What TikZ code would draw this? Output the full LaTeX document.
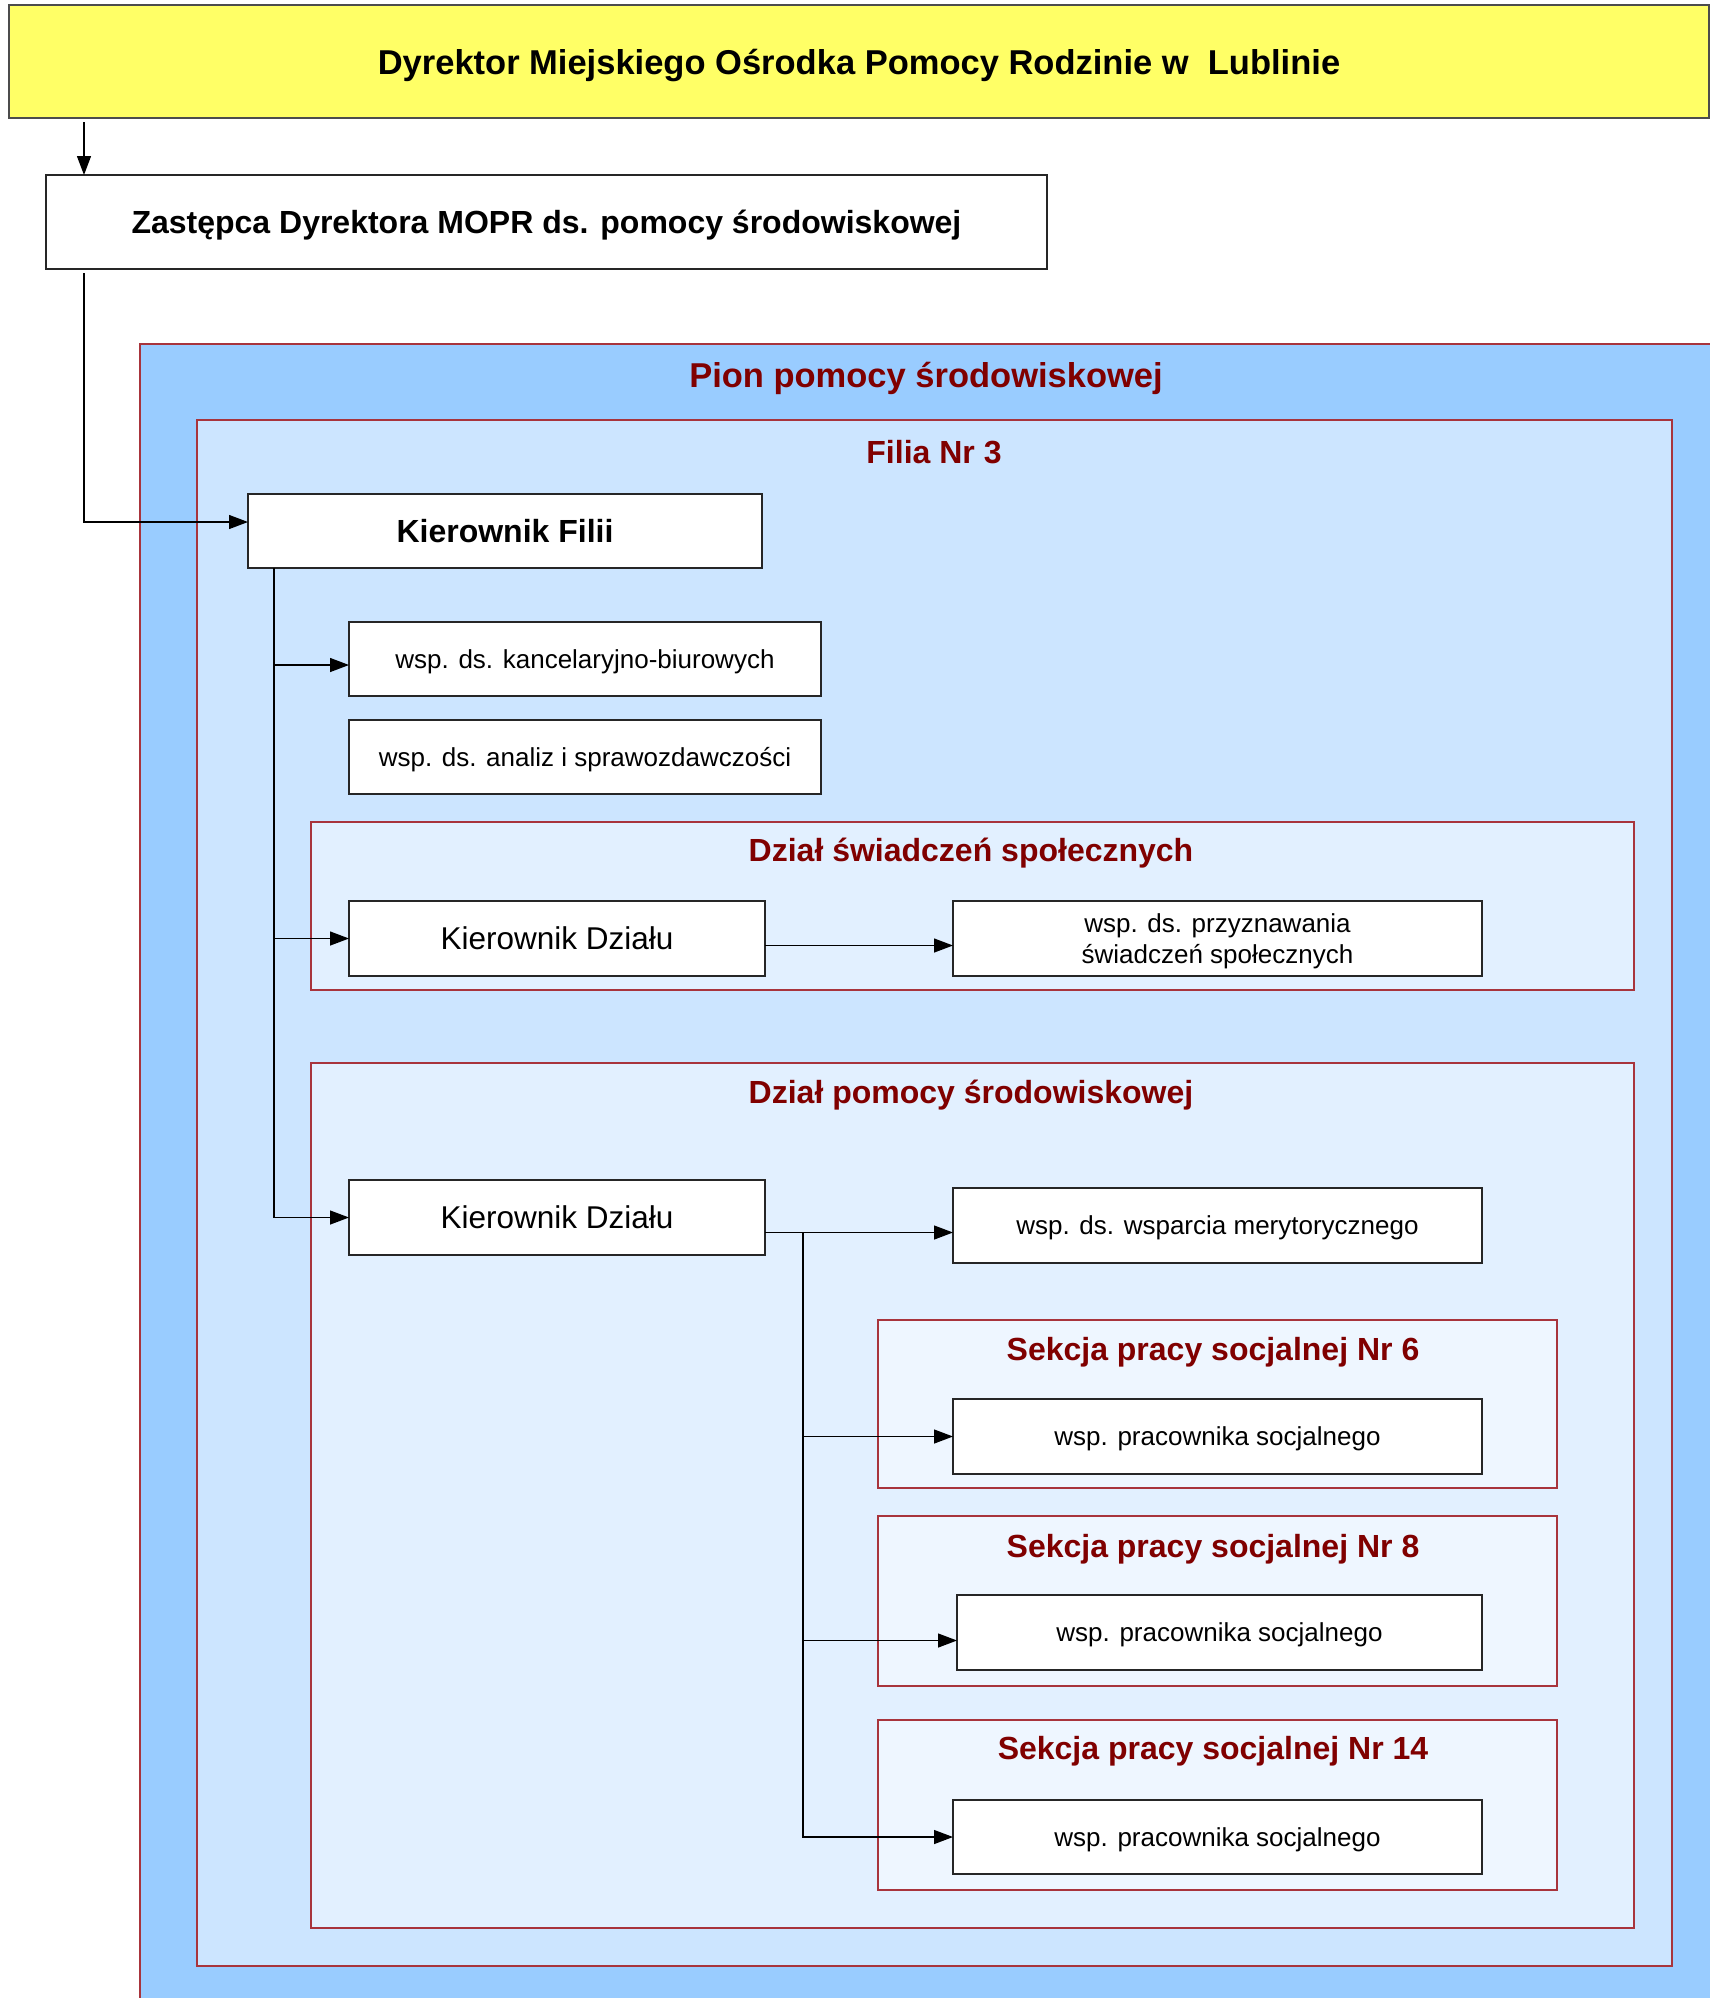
\documentclass[tikz,border=0pt]{standalone}
\usepackage{fontspec}
\setmainfont{Liberation Sans}
\usetikzlibrary{arrows.meta,calc}
\definecolor{dyryellow}{HTML}{FFFF66}
\definecolor{pionblue}{HTML}{99CCFF}
\definecolor{filiablue}{HTML}{CCE5FF}
\definecolor{dzialblue}{HTML}{E2F0FF}
\definecolor{sekblue}{HTML}{EEF6FF}
\definecolor{titlered}{HTML}{800000}
\definecolor{contred}{HTML}{A8343C}
\tikzset{
  wbox/.style={draw=black!85, fill=white, line width=1.3pt, inner sep=0pt, outer sep=0pt, align=center, text depth=0pt, font=\fontsize{26}{31}\selectfont},
  bbox/.style={wbox, font=\bfseries\fontsize{32}{37}\selectfont},
  kbox/.style={wbox, font=\fontsize{31.5}{36}\selectfont},
  cont/.style={draw=contred, line width=1.2pt, inner sep=0pt, outer sep=0pt, anchor=north west},
  ctitle/.style={text=titlered, font=\bfseries\fontsize{32}{37}\selectfont},
  arr/.style={line width=1.3pt, draw=black, -{Triangle[length=19pt,width=14pt]}},
}
\begin{document}
\begin{tikzpicture}[x=1pt,y=-1pt]
\useasboundingbox (0,0) rectangle (1710,1998);
\fill[white] (0,0) rectangle (1710,1998);
% top boxes
\node[bbox, fill=dyryellow, draw=black!70, minimum width=1700pt, minimum height=113pt, font=\bfseries\fontsize{34.5}{40}\selectfont] (dyr) at (859,61.5) {Dyrektor Miejskiego Ośrodka Pomocy Rodzinie w\ \ Lublinie};
\node[bbox, minimum width=1001pt, minimum height=94pt] (zast) at (546.5,222) {Zastępca Dyrektora MOPR ds. pomocy środowiskowej};
% containers
\node[cont, fill=pionblue, minimum width=1580pt, minimum height=1670pt] (pion) at (140,344) {};
\node[ctitle, font=\bfseries\fontsize{34.5}{40}\selectfont] (piont) at (926,378) {Pion pomocy środowiskowej};
\node[cont, fill=filiablue, minimum width=1475pt, minimum height=1546pt] (filia) at (197,420) {};
\node[ctitle] (filiat) at (934,452) {Filia Nr 3};
\node[cont, fill=dzialblue, minimum width=1323pt, minimum height=168pt] (dzs) at (311,822) {};
\node[ctitle] (dzst) at (971,853) {Dział świadczeń społecznych};
\node[cont, fill=dzialblue, minimum width=1323pt, minimum height=865pt] (dzp) at (311,1063) {};
\node[ctitle] (dzpt) at (971,1095) {Dział pomocy środowiskowej};
\node[cont, fill=sekblue, minimum width=679pt, minimum height=168pt] (s6) at (878,1320) {};
\node[ctitle] (s6t) at (1213,1352) {Sekcja pracy socjalnej Nr 6};
\node[cont, fill=sekblue, minimum width=679pt, minimum height=170pt] (s8) at (878,1516) {};
\node[ctitle] (s8t) at (1213,1549) {Sekcja pracy socjalnej Nr 8};
\node[cont, fill=sekblue, minimum width=679pt, minimum height=170pt] (s14) at (878,1720) {};
\node[ctitle] (s14t) at (1213,1751) {Sekcja pracy socjalnej Nr 14};
% boxes
\node[bbox, minimum width=514pt, minimum height=74pt] (kf) at (505,531) {Kierownik Filii};
\node[wbox, minimum width=472pt, minimum height=74pt] (kanc) at (585,659) {wsp. ds. kancelaryjno-biurowych};
\node[wbox, minimum width=472pt, minimum height=74pt] (anal) at (585,757) {wsp. ds. analiz i sprawozdawczości};
\node[kbox, minimum width=416pt, minimum height=75pt] (kd1) at (557,938.5) {Kierownik Działu};
\node[wbox, minimum width=529pt, minimum height=75pt] (przy) at (1217.5,938.5) {wsp. ds. przyznawania\\świadczeń społecznych};
\node[kbox, minimum width=416pt, minimum height=75pt] (kd2) at (557,1217.5) {Kierownik Działu};
\node[wbox, minimum width=529pt, minimum height=75pt] (wspm) at (1217.5,1225.5) {wsp. ds. wsparcia merytorycznego};
\node[wbox, minimum width=529pt, minimum height=75pt] (p6) at (1217.5,1436.5) {wsp. pracownika socjalnego};
\node[wbox, minimum width=525pt, minimum height=75pt] (p8) at (1219.5,1632.5) {wsp. pracownika socjalnego};
\node[wbox, minimum width=529pt, minimum height=74pt] (p14) at (1217.5,1837) {wsp. pracownika socjalnego};
% connectors
\draw[arr] ([xshift=75pt,yshift=-4pt]dyr.south west) -- ([xshift=38pt]zast.north west);
\draw[arr] ([xshift=38pt,yshift=-4pt]zast.south west) |- ([yshift=9pt]kf.west);
\draw[arr] ([xshift=26pt]kf.south west) |- ([yshift=-6pt]kanc.west);
\draw[arr] ([xshift=26pt]kf.south west) |- (kd1.west);
\draw[arr] ([xshift=26pt]kf.south west) |- (kd2.west);
\draw[arr] ([yshift=-7pt]kd1.east) -- ([yshift=-7pt]przy.west);
\coordinate (jw) at ([yshift=-7pt]wspm.west);
\coordinate (tr) at ([xshift=38pt]kd2.east |- jw);
\draw[arr] (kd2.east |- jw) -- (jw);
\draw[arr] (tr) |- (p6.west);
\draw[arr] (tr) |- ([yshift=-8pt]p8.west);
\draw[arr] (tr) |- (p14.west);
\end{tikzpicture}
\end{document}
